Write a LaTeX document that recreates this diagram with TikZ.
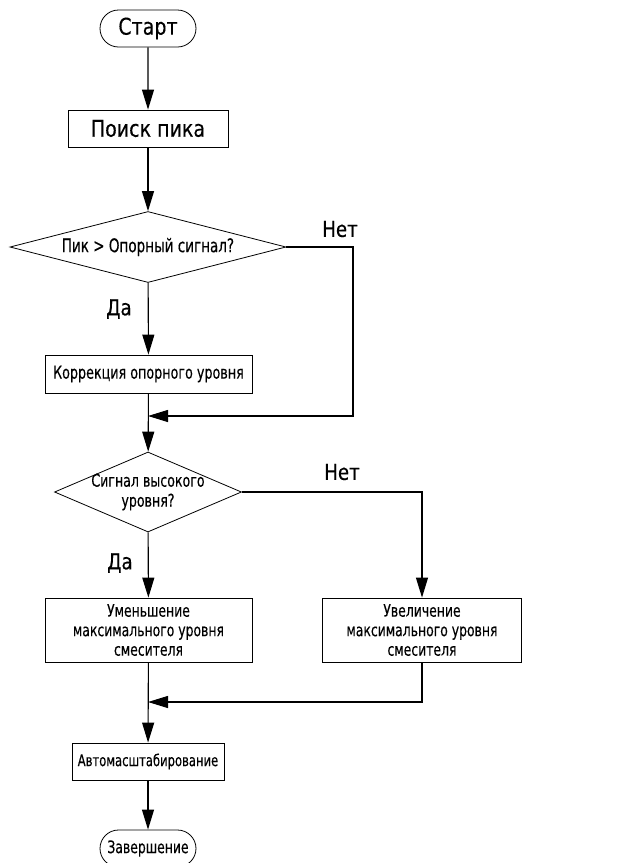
\documentclass[tikz,border=0pt]{standalone}
\usepackage{fontspec}
\setmainfont{DejaVu Sans Condensed}[FakeStretch=0.92, FakeBold=0.3]
\newfontfamily\narrowfont{DejaVu Sans Condensed}[FakeStretch=0.8, FakeBold=0.3]
\usetikzlibrary{arrows.meta, shapes.geometric, shapes.misc}
\tikzset{
  term/.style     = {rounded rectangle, draw, line width=0.8pt, inner sep=0pt,
                     minimum width=96pt, minimum height=37pt,
                     font=\fontsize{23}{26}\selectfont},
  box/.style      = {rectangle, draw, line width=0.8pt, inner sep=0pt, align=center,
                     font=\narrowfont\fontsize{17.25}{19.5}\selectfont},
  decision/.style = {diamond, draw, line width=0.8pt, inner sep=0pt, align=center,
                     font=\narrowfont\fontsize{17.5}{20}\selectfont},
  arrow/.style    = {-{Triangle[length=20pt, width=12pt]}, line width=1.1pt},
  lbl/.style      = {font=\fontsize{22}{24}\selectfont},
}

\begin{document}
\begin{tikzpicture}[x=1pt, y=-1pt]
  \useasboundingbox (0,0) rectangle (620,863);
  % main column
  \node[term] (start) at (148,28.5) {Старт};
  \node[box, minimum width=160pt, minimum height=37pt,
        font=\rmfamily\fontsize{23}{26}\selectfont] (search) at (148,128.5) {Поиск пика};
  \node[decision, aspect=4, minimum width=276pt, minimum height=71pt,
        font=\narrowfont\fontsize{18.8}{20}\selectfont] (peak) at (148,247) {Пик > Опорный сигнал?};
  \node[box, minimum width=207pt, minimum height=38pt,
        font=\narrowfont\fontsize{17.7}{20}\selectfont] (corr) at (148.5,374) {Коррекция опорного уровня};
  \node[decision, aspect=2.3, inner sep=-4pt, minimum width=187pt, minimum height=80pt]
        (level) at (148,492) {Сигнал высокого\\уровня?};
  \node[box, minimum width=207pt, minimum height=64pt] (dec) at (148.5,630)
        {Уменьшение\\максимального уровня\\смесителя};
  \node[box, minimum width=199pt, minimum height=64pt] (inc) at (422,630)
        {Увеличение\\максимального уровня\\смесителя};
  \node[box, minimum width=152pt, minimum height=37pt,
        font=\narrowfont\fontsize{16.1}{18}\selectfont] (auto) at (148,761.5) {Автомасштабирование};
  \node[term, font=\narrowfont\fontsize{17.25}{18}\selectfont] (stop) at (148,848.5) {Завершение};
  % junctions
  \coordinate (j1) at (148,416);
  \coordinate (r1) at (353,416);
  \coordinate (j2) at (148,702);
  % connectors
  \draw[arrow] (start) -- (search);
  \draw[arrow] (search) -- (peak);
  \draw[arrow] (peak) -- (corr);
  \draw[arrow] (peak.east) -| (r1) -- (j1);
  \draw[arrow] (corr) -- (level);
  \draw[arrow] (level) -- (dec);
  \draw[arrow] (level.east) -| (inc.north);
  \draw[arrow] (dec) -- (auto);
  \draw[arrow] (inc.south) |- (j2);
  \draw[arrow] (auto) -- (stop);
  % branch labels
  \node[lbl] (yes1) at (119,309) {Да};
  \node[lbl] (no1) at (340,229) {Нет};
  \node[lbl] (yes2) at (120,563) {Да};
  \node[lbl] (no2) at (342,472) {Нет};
\end{tikzpicture}
\end{document}
